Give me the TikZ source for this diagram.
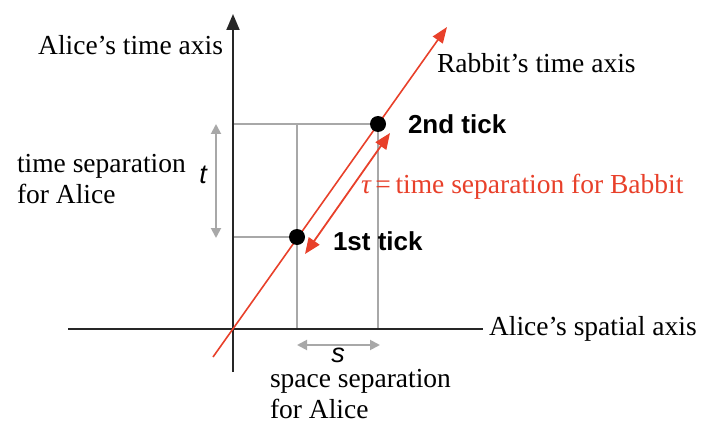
\documentclass[tikz,border=0pt]{standalone}
\usepackage{fontspec}
\setmainfont{Liberation Serif}
\newfontfamily\tickfont{Liberation Sans}
\usetikzlibrary{arrows.meta,positioning}
\definecolor{rabbitred}{HTML}{E8402A}
\definecolor{gridgrey}{HTML}{A8A8A8}
\newcommand{\fL}{\fontsize{27.5}{31}\selectfont}
\newcommand{\fK}{\tickfont\fontsize{26}{30}\selectfont\bfseries}
\newcommand{\fV}{\tickfont\fontsize{27}{30}\selectfont\itshape}
\tikzset{every node/.style={font=\fL,inner sep=0pt,outer sep=0pt},
  axis/.style={draw=black!85,line width=1.9pt},
  grid/.style={draw=gridgrey,line width=1.9pt},
  rabbit/.style={draw=rabbitred,line width=1.6pt},
  tickdot/.style={circle,fill=black,minimum size=16pt},
  ticklabel/.style={font=\fK,anchor=west}}

\begin{document}
\begin{tikzpicture}[x=1pt,y=-1pt,
    axarr/.style={axis,-{Triangle[length=16pt,width=13pt]}},
    sep/.style={grid,{Triangle[length=10pt,width=10pt]}-{Triangle[length=10pt,width=10pt]}},
    tau/.style={rabbit,line width=1.8pt,{Triangle[length=16pt,width=13pt]}-{Triangle[length=16pt,width=13pt]}}]
  \path[use as bounding box] (0,0) rectangle (717,425);

  % Points
  \coordinate (O) at (233,329);
  \coordinate (p1) at (297,237);
  \coordinate (p2) at (378,124);
  \coordinate (xl) at (68,329);
  \coordinate (xr) at (483,329);
  \coordinate (yb) at (233,372);
  \coordinate (yt) at (233,14);
  \coordinate (rb) at (213,357);
  \coordinate (rt) at (447,27);

  % Grid
  \draw[grid] (O |- p2) -- (p2);
  \draw[grid] (O |- p1) -- (p1);
  \draw[grid] (p1 |- p2) -- (p1 |- O);
  \draw[grid] (p2) -- (p2 |- O);

  % Axes
  \draw[axis] (xl) -- (xr);
  \draw[axarr] (yb) -- (yt);
  \draw[rabbit,-{Triangle[length=16pt,width=12pt]}] (rb) -- (rt);

  % Ticks
  \node[tickdot] (d1) at (p1) {};
  \node[tickdot] (d2) at (p2) {};
  \node[ticklabel,right=28pt of d1,yshift=-4pt] (l1) {1st tick};
  \node[ticklabel,right=22pt of d2] (l2) {2nd tick};

  % Separations
  \coordinate (ta) at (216,124);
  \coordinate (tb) at (216,238);
  \draw[sep] (ta) -- (tb);
  \coordinate (sa) at (297,345);
  \coordinate (sb) at (380,345);
  \draw[sep] (sa) -- (sb);
  \coordinate (ua) at (305,254);
  \coordinate (ub) at (390,133);
  \draw[tau] (ua) -- (ub);

  % Labels
  \node[anchor=east] (ytxt) at (223,45) {Alice's time axis};
  \node[anchor=west] (xtxt) at (489,329) {Alice's spatial axis};
  \node[anchor=west] (rtxt) at (437,63) {Rabbit's time axis};
  \node[anchor=west,text=rabbitred] (utxt) at (361,187) {{\itshape τ}\,=\,time separation for Babbit};
  \node[anchor=west,align=left] (ttxt) at (17,179) {time separation\\for Alice};
  \node[font=\fV] (tsym) at (203,175) {t};
  \node[font=\fV] (ssym) at (338,355) {s};
  \node[anchor=north west,align=left] (stxt) at (270,369) {space separation\\for Alice};
\end{tikzpicture}
\end{document}
